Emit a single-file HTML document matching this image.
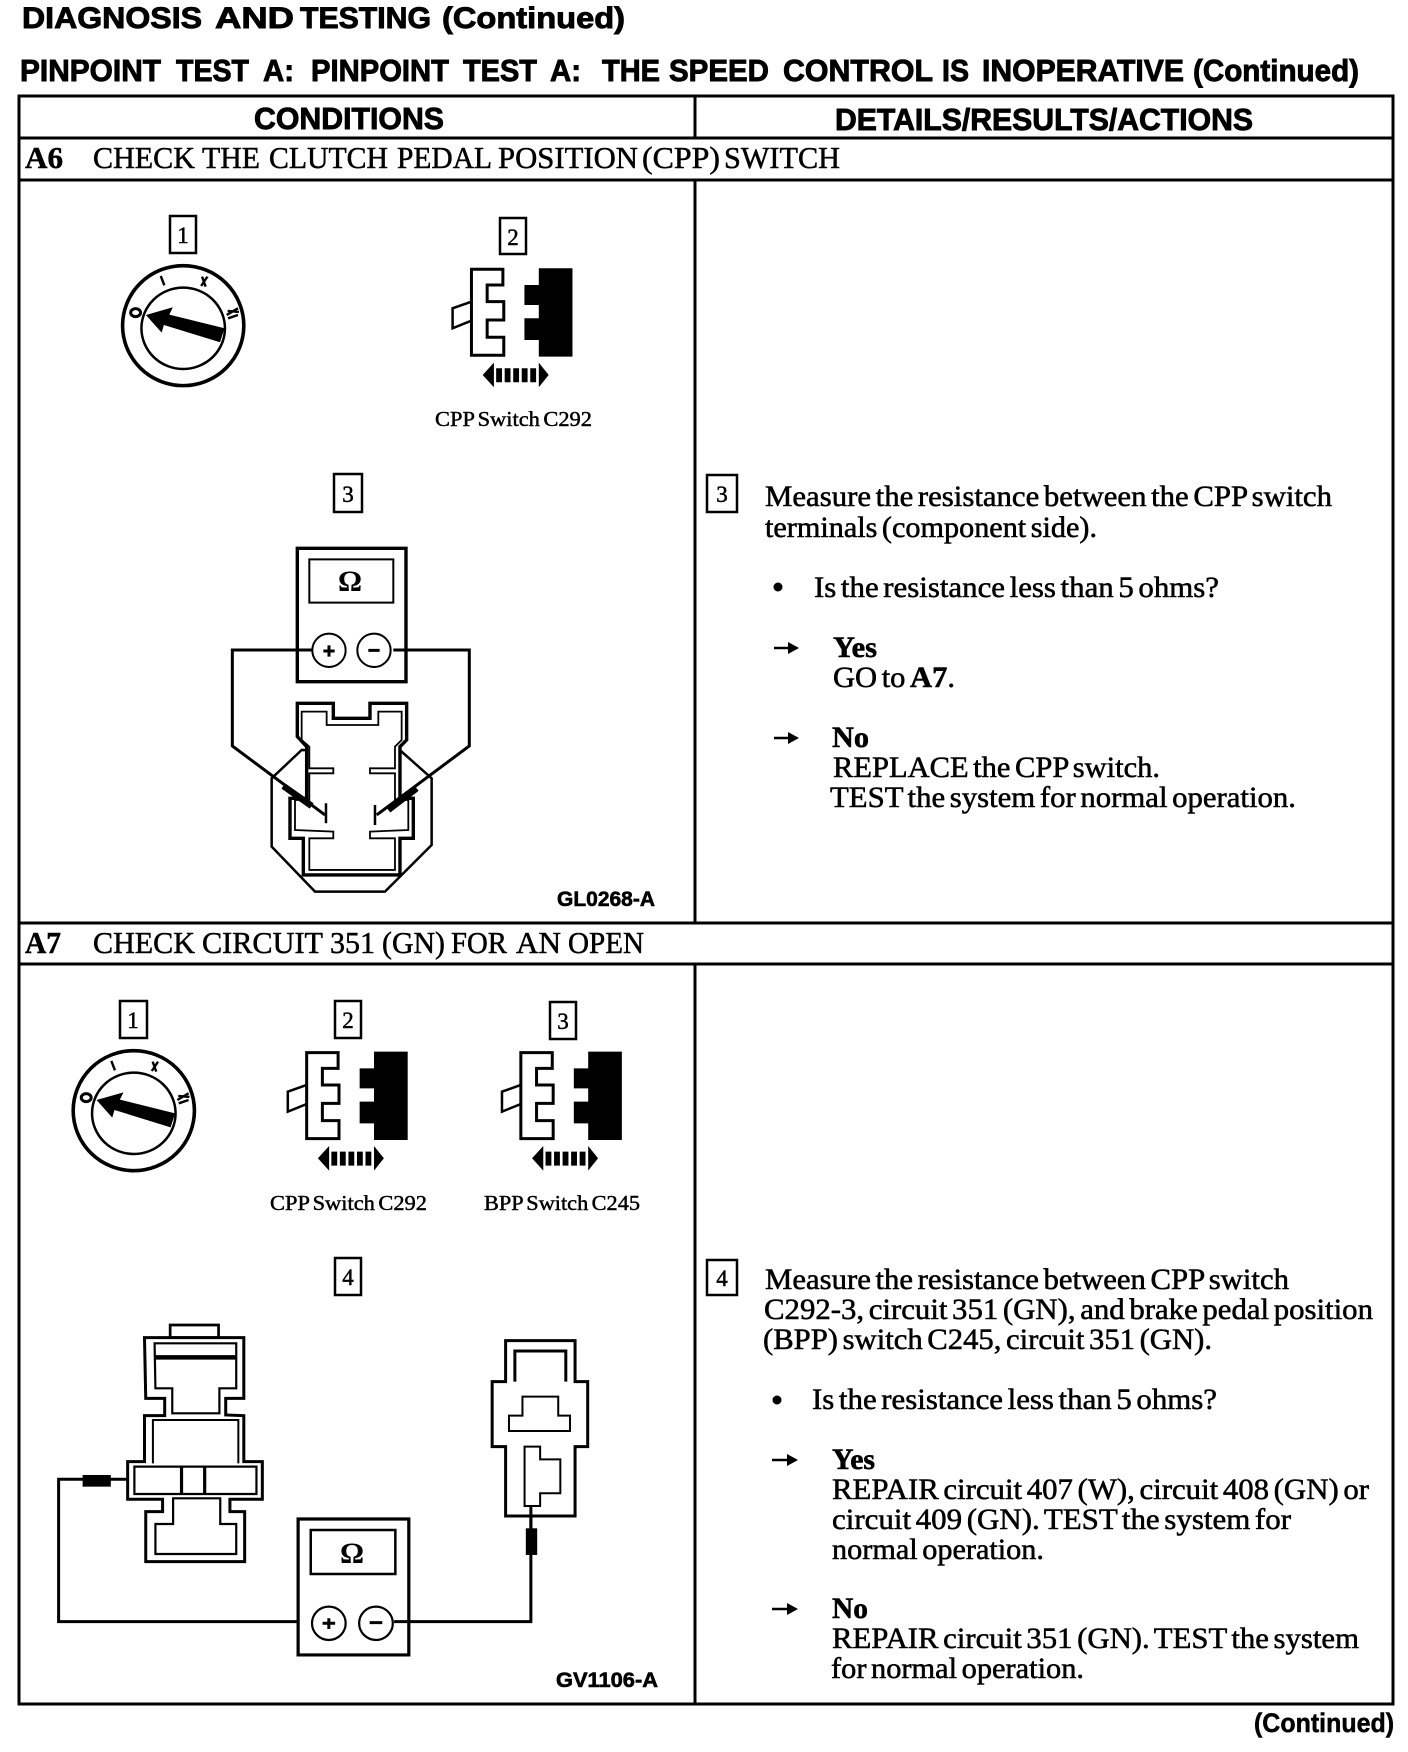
<!DOCTYPE html>
<html><head><meta charset="utf-8"><style>
html,body{margin:0;padding:0;background:#fff}
svg{display:block}
.s{font-family:"Liberation Sans",sans-serif;font-weight:bold;stroke:#000;stroke-width:.9}
.r{font-family:"Liberation Serif",serif;font-size:30px;stroke:#000;stroke-width:.55;word-spacing:-3px}
.h{font-family:"Liberation Serif",serif;font-size:31px;stroke:#000;stroke-width:.5}
.b{font-weight:bold}
.l{font-family:"Liberation Serif",serif;font-size:21px;stroke:#000;stroke-width:.45;word-spacing:-2px}
.n{font-family:"Liberation Serif",serif;font-size:23px;text-anchor:middle;stroke:#000;stroke-width:.5}
.v *{vector-effect:non-scaling-stroke}
.w{fill:#fff;stroke:#000;stroke-linejoin:miter}
.o{fill:none;stroke:#000;stroke-linejoin:miter}
</style></head><body>
<svg xmlns="http://www.w3.org/2000/svg" width="1408" height="1752" viewBox="0 0 1408 1752">
<defs>
<g id="ign" class="v">
<ellipse cx="408" cy="977" rx="135" ry="180" class="w" stroke-width="3.6"/>
<ellipse cx="408" cy="985" rx="93" ry="122" class="w" stroke-width="2.5"/>
<polygon points="325,945 385,922 377,944 500,985 490,1027 365,975 360,998" fill="#000"/>
<ellipse cx="302" cy="938" rx="11" ry="12" class="o" stroke-width="3"/>
<path d="M358 828L366 856M450 830L458 860M462 830L448 858M505 945L530 925M507 933L532 936M508 955L530 945" class="o" stroke-width="2.4"/>
</g>
<g id="conn" class="v">
<polygon points="1050,905 1008,925 1008,985 1050,962" class="w" stroke-width="2.5"/>
<polygon points="1050,808 1120,808 1120,855 1085,855 1085,905 1122,905 1122,960 1085,960 1085,1012 1122,1012 1122,1066 1050,1066" class="w" stroke-width="3"/>
<polygon points="1200,805 1275,805 1275,1070 1200,1070 1200,1020 1168,1020 1168,955 1200,955 1200,915 1168,915 1168,855 1200,855" fill="#000"/>
<polygon points="1075,1125 1100,1088 1100,1162" fill="#000"/>
<polygon points="1222,1125 1200,1088 1200,1162" fill="#000"/>
<path d="M1105 1105h13v42h-13zM1124 1105h13v42h-13zM1143 1105h13v42h-13zM1162 1105h13v42h-13zM1181 1105h13v42h-13z" fill="#000"/>
</g>
</defs>
<rect width="1408" height="1752" fill="#fff"/>

<!-- headings -->
<g class="s" font-size="30">
<text x="22" y="28" textLength="180" lengthAdjust="spacingAndGlyphs">DIAGNOSIS</text>
<text x="215" y="28" textLength="79" lengthAdjust="spacingAndGlyphs">AND</text>
<text x="300" y="28" textLength="131" lengthAdjust="spacingAndGlyphs">TESTING</text>
<text x="442" y="28" textLength="183" lengthAdjust="spacingAndGlyphs">(Continued)</text>
</g>
<g class="s" font-size="31">
<text x="20" y="81" textLength="141" lengthAdjust="spacingAndGlyphs">PINPOINT</text>
<text x="176" y="81" textLength="73" lengthAdjust="spacingAndGlyphs">TEST</text>
<text x="263" y="81" textLength="31" lengthAdjust="spacingAndGlyphs">A:</text>
<text x="311" y="81" textLength="138" lengthAdjust="spacingAndGlyphs">PINPOINT</text>
<text x="463" y="81" textLength="74" lengthAdjust="spacingAndGlyphs">TEST</text>
<text x="550" y="81" textLength="31" lengthAdjust="spacingAndGlyphs">A:</text>
<text x="602" y="81" textLength="58" lengthAdjust="spacingAndGlyphs">THE</text>
<text x="669" y="81" textLength="100" lengthAdjust="spacingAndGlyphs">SPEED</text>
<text x="783" y="81" textLength="150" lengthAdjust="spacingAndGlyphs">CONTROL</text>
<text x="942" y="81" textLength="27" lengthAdjust="spacingAndGlyphs">IS</text>
<text x="982" y="81" textLength="202" lengthAdjust="spacingAndGlyphs">INOPERATIVE</text>
<text x="1193" y="81" textLength="166" lengthAdjust="spacingAndGlyphs">(Continued)</text>
</g>

<!-- table -->
<g stroke="#000" stroke-width="3" fill="none">
<rect x="19" y="96" width="1374" height="1608"/>
<path d="M19 138H1393M19 180H1393M19 923H1393M19 964H1393M695 96V138M695 180V923M695 964V1704"/>
</g>
<text class="s" x="254" y="129" font-size="31" textLength="190" lengthAdjust="spacingAndGlyphs">CONDITIONS</text>
<text class="s" x="835" y="130" font-size="31" textLength="418" lengthAdjust="spacingAndGlyphs">DETAILS/RESULTS/ACTIONS</text>
<text class="h b" x="25" y="168" textLength="38" lengthAdjust="spacingAndGlyphs">A6</text>
<g class="h">
<text x="93" y="168" textLength="102" lengthAdjust="spacingAndGlyphs">CHECK</text>
<text x="202" y="168" textLength="58" lengthAdjust="spacingAndGlyphs">THE</text>
<text x="269" y="168" textLength="119" lengthAdjust="spacingAndGlyphs">CLUTCH</text>
<text x="397" y="168" textLength="95" lengthAdjust="spacingAndGlyphs">PEDAL</text>
<text x="498" y="168" textLength="140" lengthAdjust="spacingAndGlyphs">POSITION</text>
<text x="642" y="168" textLength="78" lengthAdjust="spacingAndGlyphs">(CPP)</text>
<text x="724" y="168" textLength="116" lengthAdjust="spacingAndGlyphs">SWITCH</text>
</g>
<text class="h b" x="25" y="953" textLength="36" lengthAdjust="spacingAndGlyphs">A7</text>
<g class="h">
<text x="93" y="953" textLength="102" lengthAdjust="spacingAndGlyphs">CHECK</text>
<text x="202" y="953" textLength="121" lengthAdjust="spacingAndGlyphs">CIRCUIT</text>
<text x="330" y="953" textLength="45" lengthAdjust="spacingAndGlyphs">351</text>
<text x="382" y="953" textLength="63" lengthAdjust="spacingAndGlyphs">(GN)</text>
<text x="451" y="953" textLength="56" lengthAdjust="spacingAndGlyphs">FOR</text>
<text x="516" y="953" textLength="45" lengthAdjust="spacingAndGlyphs">AN</text>
<text x="568" y="953" textLength="76" lengthAdjust="spacingAndGlyphs">OPEN</text>
</g>

<!-- numbered boxes -->
<g fill="#fff" stroke="#000" stroke-width="2.5">
<rect x="170" y="216" width="26" height="37"/><rect x="500" y="218" width="26" height="36"/>
<rect x="334" y="474" width="28" height="38"/><rect x="707" y="475" width="30" height="37"/>
<rect x="120" y="1001" width="27" height="37"/><rect x="335" y="1001" width="26" height="37"/>
<rect x="550" y="1002" width="26" height="37"/><rect x="335" y="1258" width="26" height="37"/>
<rect x="707" y="1260" width="30" height="35"/>
</g>
<text class="n" x="183" y="243">1</text><text class="n" x="513" y="245">2</text><text class="n" x="348" y="502">3</text><text class="n" x="722" y="502">3</text>
<text class="n" x="133" y="1028">1</text><text class="n" x="348" y="1028">2</text><text class="n" x="563" y="1029">3</text><text class="n" x="348" y="1285">4</text><text class="n" x="722" y="1286">4</text>

<!-- A6 top icons -->
<g transform="scale(.449 .3333)"><use href="#ign"/><use href="#conn"/></g>
<text class="l" x="435" y="426" textLength="157" lengthAdjust="spacingAndGlyphs">CPP Switch C292</text>

<!-- A7 top icons -->
<g transform="translate(0 930) scale(.449 .3333)">
<use href="#ign" transform="translate(-110 -435)"/>
<use href="#conn" transform="translate(-367 -440)"/>
<use href="#conn" transform="translate(110 -440)"/>
</g>
<text class="l" x="270" y="1210" textLength="157" lengthAdjust="spacingAndGlyphs">CPP Switch C292</text>
<text class="l" x="484" y="1210" textLength="156" lengthAdjust="spacingAndGlyphs">BPP Switch C245</text>

<!-- A6 meter and connector -->
<g transform="translate(200 470) scale(.3333)" class="v">
<polygon points="215,925 215,1130 345,1265 555,1265 695,1125 695,925 605,845 305,840" class="o" stroke-width="2.5"/>
<polygon points="292,700 400,700 400,745 510,745 510,700 620,700 620,810 600,830 600,985 640,985 640,1105 600,1105 600,1215 310,1215 310,1105 270,1105 270,985 320,985 320,830 292,800" class="w" stroke-width="3.4"/>
<polygon points="305,725 380,725 380,765 535,765 535,725 605,725 605,810 585,830 585,895 510,895 510,910 585,910 585,990 625,990 625,1080 510,1085 510,1105 585,1105 585,1200 328,1200 328,1105 400,1105 400,1085 285,1080 285,990 328,990 328,910 400,910 400,895 328,895 328,830 305,810" class="w" stroke-width="1.8"/>
<rect x="292" y="235" width="326" height="400" class="w" stroke-width="3.4"/>
<rect x="328" y="268" width="252" height="130" class="w" stroke-width="2"/>
<path d="M335 540H97V828L375 1035M580 540H808V828L530 1035" class="o" stroke-width="3"/>
<path d="M250 948L335 1008M650 955L565 1020" class="o" stroke-width="6.5"/>
<path d="M378 1000V1060M525 1005V1065" class="o" stroke-width="2.5"/>
<circle cx="387" cy="541" r="50" class="w" stroke-width="2"/>
<circle cx="522" cy="541" r="50" class="w" stroke-width="2"/>
<path d="M370 543H404M387 526V560M505 541H539" class="o" stroke-width="3"/>
</g>
<text x="350" y="591" text-anchor="middle" font-family="Liberation Serif,serif" font-size="30" font-weight="bold">Ω</text>
<text class="s" x="557" y="906" font-size="21" textLength="98" lengthAdjust="spacingAndGlyphs" style="stroke-width:.6">GL0268-A</text>

<!-- A7 lower diagram -->
<g transform="translate(30 1270) scale(.4209 .3333)" class="v">
<path d="M235 628H68V1055H640M865 1055H1190V710" class="o" stroke-width="3"/>
<rect x="125" y="615" width="67" height="35" fill="#000"/>
<rect x="1178" y="775" width="27" height="80" fill="#000"/>
<rect x="333" y="165" width="115" height="38" class="w" stroke-width="2.7"/>
<polygon points="272,203 508,203 508,385 465,385 465,435 508,437 508,575 552,575 552,688 475,688 475,725 510,725 510,875 275,875 275,725 315,725 315,688 232,688 232,575 272,575 272,437 320,437 320,385 275,385" class="w" stroke-width="3"/>
<polygon points="296,220 490,220 490,355 450,355 450,430 338,430 338,355 298,355" class="o" stroke-width="2.2"/>
<path d="M296 262H490" class="o" stroke-width="4.5"/>
<path d="M292 580V450H495V580" class="o" stroke-width="2"/>
<rect x="248" y="590" width="290" height="82" class="o" stroke-width="2.2"/>
<path d="M360 590V672M415 590V672" class="o" stroke-width="3.2"/>
<polygon points="340,685 452,685 452,762 490,762 490,852 298,852 298,762 340,762" class="o" stroke-width="2.2"/>
<polygon points="1130,212 1295,212 1295,335 1325,335 1325,530 1295,530 1295,738 1130,738 1130,530 1098,530 1098,335 1130,335" class="w" stroke-width="3"/>
<path d="M1152 335V243H1273V335" class="o" stroke-width="3"/>
<polygon points="1170,380 1255,380 1255,437 1283,437 1283,483 1138,483 1138,437 1170,437" class="o" stroke-width="2"/>
<polygon points="1175,530 1212,530 1212,568 1260,568 1260,670 1212,670 1212,708 1175,708" class="o" stroke-width="2"/>
<path d="M1190 708V780" class="o" stroke-width="3"/>
<rect x="637" y="747" width="263" height="408" class="o" stroke-width="3.2"/>
<rect x="667" y="780" width="201" height="132" class="o" stroke-width="2.5"/>
<ellipse cx="710" cy="1060" rx="40" ry="50" class="w" stroke-width="2.2"/>
<ellipse cx="822" cy="1060" rx="40" ry="50" class="w" stroke-width="2.2"/>
<path d="M695 1060H725M710 1045V1077M807 1058H837" class="o" stroke-width="3"/>
</g>
<text x="352" y="1563" text-anchor="middle" font-family="Liberation Serif,serif" font-size="30" font-weight="bold">Ω</text>
<text class="s" x="556" y="1687" font-size="21" textLength="102" lengthAdjust="spacingAndGlyphs" style="stroke-width:.6">GV1106-A</text>
<text class="s" x="1254" y="1732" font-size="27" textLength="140" lengthAdjust="spacingAndGlyphs" style="stroke-width:.5">(Continued)</text>

<!-- A6 details -->
<text class="r" x="765" y="506" textLength="567" lengthAdjust="spacingAndGlyphs">Measure the resistance between the CPP switch</text>
<text class="r" x="765" y="537" textLength="332" lengthAdjust="spacingAndGlyphs">terminals (component side).</text>
<circle cx="778" cy="587" r="4.5" fill="#000"/>
<text class="r" x="814" y="597" textLength="405" lengthAdjust="spacingAndGlyphs">Is the resistance less than 5 ohms?</text>
<path d="M774 648H792" stroke="#000" stroke-width="2.4"/><polygon points="799,648 788,642 788,654" fill="#000"/>
<text class="r b" x="833" y="657" textLength="44" lengthAdjust="spacingAndGlyphs">Yes</text>
<text class="r" x="833" y="687" textLength="122" lengthAdjust="spacingAndGlyphs">GO to <tspan class="b">A7</tspan>.</text>
<path d="M774 738H792" stroke="#000" stroke-width="2.4"/><polygon points="799,738 788,732 788,744" fill="#000"/>
<text class="r b" x="832" y="747" textLength="37" lengthAdjust="spacingAndGlyphs">No</text>
<text class="r" x="833" y="777" textLength="327" lengthAdjust="spacingAndGlyphs">REPLACE the CPP switch.</text>
<text class="r" x="830" y="807" textLength="466" lengthAdjust="spacingAndGlyphs">TEST the system for normal operation.</text>

<!-- A7 details -->
<text class="r" x="765" y="1289" textLength="524" lengthAdjust="spacingAndGlyphs">Measure the resistance between CPP switch</text>
<text class="r" x="764" y="1319" textLength="609" lengthAdjust="spacingAndGlyphs">C292-3, circuit 351 (GN), and brake pedal position</text>
<text class="r" x="763" y="1349" textLength="449" lengthAdjust="spacingAndGlyphs">(BPP) switch C245, circuit 351 (GN).</text>
<circle cx="777" cy="1400" r="4.5" fill="#000"/>
<text class="r" x="812" y="1409" textLength="405" lengthAdjust="spacingAndGlyphs">Is the resistance less than 5 ohms?</text>
<path d="M772 1460H791" stroke="#000" stroke-width="2.4"/><polygon points="798,1460 787,1454 787,1466" fill="#000"/>
<text class="r b" x="832" y="1469" textLength="43" lengthAdjust="spacingAndGlyphs">Yes</text>
<text class="r" x="832" y="1499" textLength="537" lengthAdjust="spacingAndGlyphs">REPAIR circuit 407 (W), circuit 408 (GN) or</text>
<text class="r" x="832" y="1529" textLength="459" lengthAdjust="spacingAndGlyphs">circuit 409 (GN). TEST the system for</text>
<text class="r" x="832" y="1559" textLength="212" lengthAdjust="spacingAndGlyphs">normal operation.</text>
<path d="M772 1609H791" stroke="#000" stroke-width="2.4"/><polygon points="798,1609 787,1603 787,1615" fill="#000"/>
<text class="r b" x="832" y="1618" textLength="36" lengthAdjust="spacingAndGlyphs">No</text>
<text class="r" x="832" y="1648" textLength="527" lengthAdjust="spacingAndGlyphs">REPAIR circuit 351 (GN). TEST the system</text>
<text class="r" x="831" y="1678" textLength="253" lengthAdjust="spacingAndGlyphs">for normal operation.</text>
</svg>
</body></html>
